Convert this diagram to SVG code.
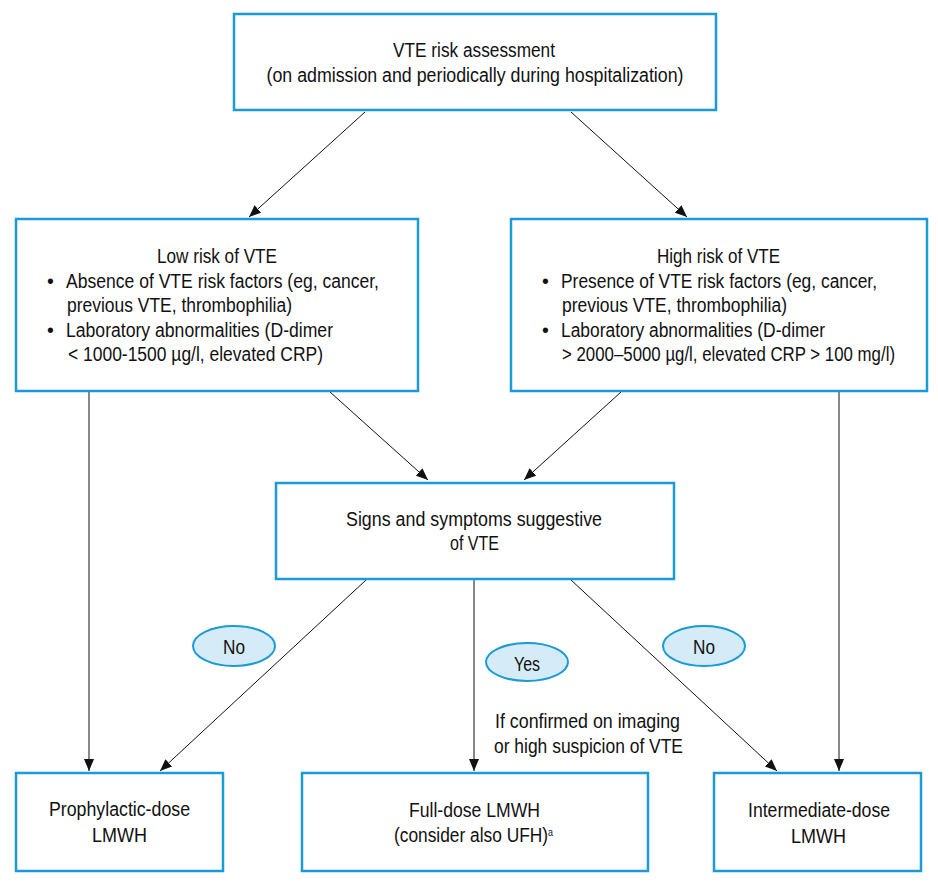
<svg xmlns="http://www.w3.org/2000/svg" width="938" height="888" viewBox="0 0 938 888">
<defs>
<style>
.box{fill:#fff;stroke:#1a9ad7;stroke-width:2.5}
.lab{fill:#d6ebf8;stroke:#1a9ad7;stroke-width:2}
.t{font-family:"Liberation Sans",Arial,sans-serif;font-size:19.5px;fill:#111}
.m{text-anchor:middle}
.c{stroke:#111;stroke-width:1;fill:none;marker-end:url(#ah)}
</style>
<marker id="ah" markerUnits="userSpaceOnUse" markerWidth="12" markerHeight="10" refX="12" refY="5" orient="auto">
<path d="M0,0 L12,5 L0,10 z" fill="#111"/>
</marker>
</defs>
<rect width="938" height="888" fill="#fff"/>
<g id="connectors">
<line class="c" x1="365" y1="112" x2="249" y2="217"/>
<line class="c" x1="571" y1="112" x2="687" y2="217"/>
<line class="c" x1="330" y1="392" x2="428" y2="480"/>
<line class="c" x1="621" y1="392" x2="524" y2="480"/>
<line class="c" x1="89" y1="392" x2="89" y2="771"/>
<line class="c" x1="839" y1="392" x2="839" y2="771"/>
<line class="c" x1="366" y1="580" x2="160" y2="771"/>
<line class="c" x1="474" y1="580" x2="474" y2="771"/>
<line class="c" x1="571" y1="580" x2="777" y2="771"/>
</g>
<g id="assess">
<rect class="box" x="234" y="14" width="482" height="96"/>
<text class="t m" x="474" y="57" textLength="162" lengthAdjust="spacingAndGlyphs">VTE risk assessment</text>
<text class="t m" x="475" y="82" textLength="417" lengthAdjust="spacingAndGlyphs">(on admission and periodically during hospitalization)</text>
</g>
<g id="low">
<rect class="box" x="16" y="219" width="402" height="172"/>
<text class="t m" x="217" y="263" textLength="120" lengthAdjust="spacingAndGlyphs">Low risk of VTE</text>
<text class="t" x="47" y="288">•</text>
<text class="t" x="66" y="288" textLength="313" lengthAdjust="spacingAndGlyphs">Absence of VTE risk factors (eg, cancer,</text>
<text class="t" x="67" y="312" textLength="225" lengthAdjust="spacingAndGlyphs">previous VTE, thrombophilia)</text>
<text class="t" x="47" y="337">•</text>
<text class="t" x="66" y="337" textLength="267" lengthAdjust="spacingAndGlyphs">Laboratory abnormalities (D-dimer</text>
<text class="t" x="68" y="361" textLength="255" lengthAdjust="spacingAndGlyphs">&lt; 1000-1500 µg/l, elevated CRP)</text>
</g>
<g id="high">
<rect class="box" x="511" y="219" width="416" height="172"/>
<text class="t m" x="718.5" y="263" textLength="123" lengthAdjust="spacingAndGlyphs">High risk of VTE</text>
<text class="t" x="542" y="288">•</text>
<text class="t" x="561" y="288" textLength="316" lengthAdjust="spacingAndGlyphs">Presence of VTE risk factors (eg, cancer,</text>
<text class="t" x="562" y="312" textLength="225" lengthAdjust="spacingAndGlyphs">previous VTE, thrombophilia)</text>
<text class="t" x="542" y="337">•</text>
<text class="t" x="561" y="337" textLength="264" lengthAdjust="spacingAndGlyphs">Laboratory abnormalities (D-dimer</text>
<text class="t" x="562" y="361" textLength="333" lengthAdjust="spacingAndGlyphs">&gt; 2000–5000 µg/l, elevated CRP &gt; 100 mg/l)</text>
</g>
<g id="signs">
<rect class="box" x="276" y="483" width="398" height="96"/>
<text class="t m" x="474" y="526" textLength="256" lengthAdjust="spacingAndGlyphs">Signs and symptoms suggestive</text>
<text class="t m" x="474.5" y="550" textLength="49" lengthAdjust="spacingAndGlyphs">of VTE</text>
</g>
<g id="no-left">
<ellipse class="lab" cx="234" cy="646" rx="41" ry="20"/>
<text class="t m" x="234" y="654" textLength="22" lengthAdjust="spacingAndGlyphs">No</text>
</g>
<g id="yes">
<ellipse class="lab" cx="527" cy="662" rx="41" ry="19"/>
<text class="t m" x="527" y="671" textLength="26" lengthAdjust="spacingAndGlyphs">Yes</text>
</g>
<g id="no-right">
<ellipse class="lab" cx="704" cy="646" rx="41" ry="20"/>
<text class="t m" x="704" y="654" textLength="22" lengthAdjust="spacingAndGlyphs">No</text>
</g>
<g id="condition">
<text class="t" x="495" y="728" textLength="185" lengthAdjust="spacingAndGlyphs">If confirmed on imaging</text>
<text class="t" x="494" y="753" textLength="189" lengthAdjust="spacingAndGlyphs">or high suspicion of VTE</text>
</g>
<g id="prophylactic">
<rect class="box" x="16" y="773" width="207" height="98"/>
<text class="t m" x="119.5" y="816" textLength="141" lengthAdjust="spacingAndGlyphs">Prophylactic-dose</text>
<text class="t m" x="119.5" y="842" textLength="55" lengthAdjust="spacingAndGlyphs">LMWH</text>
</g>
<g id="full">
<rect class="box" x="302" y="773" width="346" height="98"/>
<text class="t m" x="474.5" y="817" textLength="131" lengthAdjust="spacingAndGlyphs">Full-dose LMWH</text>
<text class="t" x="394" y="842" textLength="159" lengthAdjust="spacingAndGlyphs">(consider also UFH)<tspan dy="-6" style="font-size:10px">a</tspan></text>
</g>
<g id="intermediate">
<rect class="box" x="714" y="773" width="207" height="98"/>
<text class="t m" x="819" y="817" textLength="142" lengthAdjust="spacingAndGlyphs">Intermediate-dose</text>
<text class="t m" x="818.5" y="843" textLength="55" lengthAdjust="spacingAndGlyphs">LMWH</text>
</g>
</svg>
